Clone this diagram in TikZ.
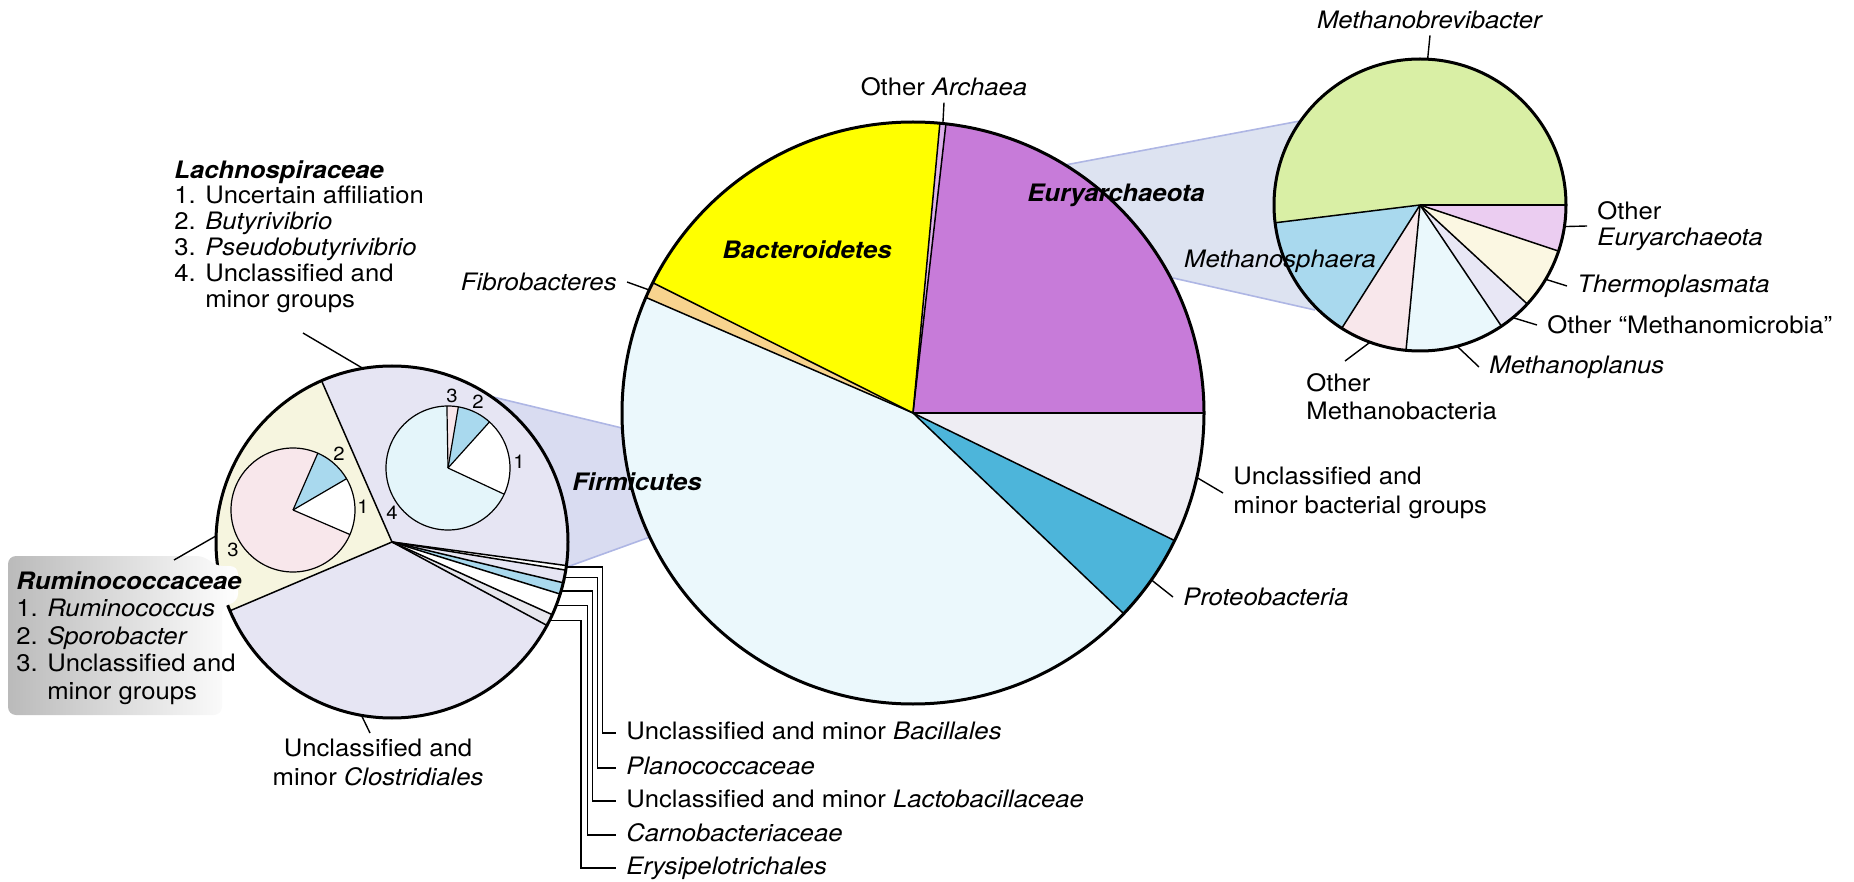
\documentclass[tikz,border=0pt]{standalone}
\usepackage{fontspec}
\setmainfont{TeX Gyre Heros}[FakeStretch=1.07]
\usetikzlibrary{calc}
\definecolor{cEury}{HTML}{C77BD9}
\definecolor{cOArch}{HTML}{DDB0EA}
\definecolor{cBact}{HTML}{FFFF00}
\definecolor{cFibro}{HTML}{F8D38E}
\definecolor{cFirm}{HTML}{EBF8FC}
\definecolor{cProt}{HTML}{4DB5DA}
\definecolor{cUncl}{HTML}{EEEDF3}
\definecolor{cLav}{HTML}{E6E5F3}
\definecolor{cCream}{HTML}{F6F5DF}
\definecolor{cCyan}{HTML}{E4F5FA}
\definecolor{cPink}{HTML}{F8E7EB}
\definecolor{cBlue}{HTML}{A9D9EE}
\definecolor{cGreen}{HTML}{D9EFA5}
\definecolor{cMPlan}{HTML}{EAF8FC}
\definecolor{cMMic}{HTML}{E8E7F5}
\definecolor{cThermo}{HTML}{FBF7E2}
\definecolor{cOEury}{HTML}{EBCDF1}
\definecolor{cBandA}{HTML}{D9DCF1}
\definecolor{cBandB}{HTML}{DDE3F1}
\definecolor{cBandEdge}{HTML}{AEB6E4}
\definecolor{cGreyL}{HTML}{E6E6EC}
\newcommand\pieslice[5]{\fill[#5] (#1) -- ++({-(#3)}:#2) arc[start angle={-(#3)}, end angle={-(#4)}, radius=#2] -- cycle;}
\newcommand\spoke[4]{\draw[#4] (#1) -- ++({-(#3)}:#2);}
\tikzset{
  lbl/.style={font=\fontsize{12}{14.4}\selectfont, inner xsep=5pt, inner ysep=3pt},
  bi/.style={lbl, font=\fontsize{12}{14.4}\selectfont\bfseries\itshape},
  blab/.style={lbl, anchor=west, text height=9pt, text depth=2.5pt},
  numlbl/.style={font=\fontsize{9.5}{11}\selectfont, inner sep=0pt},
  tick/.style={line width=0.7pt},
  rim/.style={line width=1.5pt},
  sepline/.style={line width=0.75pt},
  thinline/.style={line width=0.6pt},
  bandedge/.style={draw=cBandEdge, line width=0.8pt},
}
\begin{document}
\begin{tikzpicture}[x=0.5pt,y=-0.5pt]
\useasboundingbox (0,0) rectangle (1854,882);
\coordinate (M) at (913,413);
\coordinate (S) at (392,542);
\coordinate (E) at (1420,205);
\coordinate (L) at (448,468);
\coordinate (R) at (293,510);

% ---- projection bands
\coordinate (b1s) at (493,397); \coordinate (b1m) at (622,428);
\coordinate (b2s) at (567,567); \coordinate (b2m) at (650,537);
\fill[cBandA] (S) -- (b1s) -- (b1m) -- (M) -- (b2m) -- (b2s) -- cycle;
\draw[bandedge] (b1s) -- (b1m) (b2s) -- (b2m);
\coordinate (e1m) at (1065,165); \coordinate (e1e) at (1300,121);
\coordinate (e2m) at (1173,278); \coordinate (e2e) at (1315,310);
\fill[cBandB] (M) -- (e1m) -- (e1e) -- (E) -- (e2e) -- (e2m) -- cycle;
\draw[bandedge] (e1m) -- (e1e) (e2m) -- (e2e);

% ---- main pie
\pieslice{M}{291}{0}{83.5}{cEury}
\pieslice{M}{291}{83.5}{84.7}{cOArch}
\pieslice{M}{291}{84.7}{153.4}{cBact}
\pieslice{M}{291}{153.4}{156.6}{cFibro}
\pieslice{M}{291}{156.6}{316.4}{cFirm}
\pieslice{M}{291}{316.4}{334}{cProt}
\pieslice{M}{291}{334}{360}{cUncl}
\foreach \a in {0,83.5,84.7,153.4,156.6,316.4,334} {\spoke{M}{291}{\a}{sepline}}
\draw[rim] (M) circle[radius=291];

% ---- Firmicutes pie
\pieslice{S}{176}{-7.7}{113.6}{cLav}
\pieslice{S}{176}{113.6}{203}{cCream}
\pieslice{S}{176}{203}{331.7}{cLav}
\pieslice{S}{176}{-9.2}{-7.7}{white}
\pieslice{S}{176}{-13.4}{-9.2}{cLav}
\pieslice{S}{176}{-17.2}{-13.4}{cBlue}
\pieslice{S}{176}{-24.4}{-17.2}{white}
\pieslice{S}{176}{-28.3}{-24.4}{cGreyL}
\foreach \a in {-7.7,-9.2,-13.4,-17.2,-24.4,-28.3,113.6,203} {\spoke{S}{176}{\a}{sepline}}
\draw[rim] (S) circle[radius=176];

% sub pie Lachnospiraceae
\pieslice{L}{62}{-25}{48}{white}
\pieslice{L}{62}{48}{80.4}{cBlue}
\pieslice{L}{62}{80.4}{91}{cPink}
\pieslice{L}{62}{91}{335}{cCyan}
\foreach \a in {-25,48,80.4,91} {\spoke{L}{62}{\a}{thinline}}
\draw[thinline] (L) circle[radius=62];
% sub pie Ruminococcaceae
\pieslice{R}{62}{-23.3}{30.3}{white}
\pieslice{R}{62}{30.3}{66.4}{cBlue}
\pieslice{R}{62}{66.4}{336.7}{cPink}
\foreach \a in {-23.3,30.3,66.4} {\spoke{R}{62}{\a}{thinline}}
\draw[thinline] (R) circle[radius=62];

% ---- Euryarchaeota pie
\pieslice{E}{146}{0}{187}{cGreen}
\pieslice{E}{146}{187}{237.6}{cBlue}
\pieslice{E}{146}{237.6}{264.5}{cPink}
\pieslice{E}{146}{264.5}{303.9}{cMPlan}
\pieslice{E}{146}{303.9}{317.3}{cMMic}
\pieslice{E}{146}{317.3}{341.6}{cThermo}
\pieslice{E}{146}{341.6}{360}{cOEury}
\foreach \a in {0,187,237.6,264.5,303.9,317.3,341.6} {\spoke{E}{146}{\a}{sepline}}
\draw[rim] (E) circle[radius=146];

% ---- grey paper behind Ruminococcaceae legend
\shade[left color=black!27, right color=white, rounded corners=4pt]
  (8,556) -- (205,556) -- (215,566) -- (238,566) -- (238,602) -- (222,606) -- (222,715) -- (8,715) -- cycle;

% ---- main pie labels
\node[lbl] (oarch) at (944,87) {Other \textit{Archaea}};
\path (M) ++({-84.1}:291) coordinate (oarchP);
\draw[tick] (oarch.south) -- (oarchP);
\node[bi] (bact) at (807,250) {Bacteroidetes};
\node[bi] (eury) at (1116,195) {Euryarchaeota};
\node[bi] (firm) at (637,482) {Firmicutes};
\node[lbl, anchor=east] (fibro) at (627,282) {\textit{Fibrobacteres}};
\path (M) ++({-155}:291) coordinate (fibroP);
\draw[tick] (fibro.east) -- (fibroP);
\node[lbl, anchor=west, align=left, font=\fontsize{12}{14.8}\selectfont] (uncl) at (1223,493) {Unclassified and\\minor bacterial groups};
\path (M) ++({12.8}:291) coordinate (unclP);
\draw[tick] (unclP) -- (uncl.west);
\node[lbl, anchor=west] (prot) at (1173,597) {\textit{Proteobacteria}};
\path (M) ++({35}:291) coordinate (protP);
\draw[tick] (protP) -- (prot.west);

% ---- Firmicutes pie labels
\node[lbl, anchor=north west, align=left, inner sep=0pt, font=\fontsize{12}{12.9}\selectfont] (lach) at (174,160)
  {\textbf{\textit{Lachnospiraceae}}\\1. Uncertain affiliation\\2. \textit{Butyrivibrio}\\3. \textit{Pseudobutyrivibrio}\\4. Unclassified and\\\phantom{4. }minor groups};
\coordinate (lachA) at (303,333);
\path (S) ++({-99.5}:176) coordinate (lachP);
\draw[tick] (lachA) -- (lachP);
\node[lbl, anchor=north west, align=left, inner sep=0pt, font=\fontsize{12}{13.75}\selectfont] (rumi) at (16,571)
  {\textbf{\textit{Ruminococcaceae}}\\1. \textit{Ruminococcus}\\2. \textit{Sporobacter}\\3. Unclassified and\\\phantom{3. }minor groups};
\coordinate (rumiA) at (174,560);
\path (S) ++({-178}:176) coordinate (rumiP);
\draw[tick] (rumiA) -- (rumiP);
\node[lbl, anchor=north, align=center, font=\fontsize{12}{14.2}\selectfont] (clos) at (378,733) {Unclassified and\\minor \textit{Clostridiales}};
\path (S) ++({100}:176) coordinate (closP);
\draw[tick] (closP) -- ([xshift=-4pt]clos.north);

\node[numlbl] (l1) at (519,462) {1};
\node[numlbl] (l2) at (478,402) {2};
\node[numlbl] (l3) at (452,396) {3};
\node[numlbl] (l4) at (392,513) {4};
\node[numlbl] (r1) at (363,507) {1};
\node[numlbl] (r2) at (339,454) {2};
\node[numlbl] (r3) at (233,550) {3};

% bottom labels with elbow connectors
\node[blab] (bac) at (616,733) {Unclassified and minor \textit{Bacillales}};
\node[blab] (plan) at (616,768) {\textit{Planococcaceae}};
\node[blab] (lacto) at (616,801) {Unclassified and minor \textit{Lactobacillaceae}};
\node[blab] (carno) at (616,835) {\textit{Carnobacteriaceae}};
\node[blab] (erys) at (616,868) {\textit{Erysipelotrichales}};
\path (S) ++({8.2}:176) coordinate (t1);
\path (S) ++({11.7}:176) coordinate (t2);
\path (S) ++({16.2}:176) coordinate (t3);
\path (S) ++({21.1}:176) coordinate (t4);
\path (S) ++({26.4}:176) coordinate (t5);
\coordinate (v1) at (602.5,0);
\coordinate (v2) at (597.5,0);
\coordinate (v3) at (592.3,0);
\coordinate (v4) at (587.3,0);
\coordinate (v5) at (580.8,0);
\draw[tick] (t1) -- (t1 -| v1) |- (bac.west);
\draw[tick] (t2) -- (t2 -| v2) |- (plan.west);
\draw[tick] (t3) -- (t3 -| v3) |- (lacto.west);
\draw[tick] (t4) -- (t4 -| v4) |- (carno.west);
\draw[tick] (t5) -- (t5 -| v5) |- (erys.west);

% ---- Euryarchaeota pie labels
\node[lbl] (mbrev) at (1430,20) {\textit{Methanobrevibacter}};
\path (E) ++({-87}:146) coordinate (mbrevP);
\draw[tick] (mbrev.south) -- (mbrevP);
\node[lbl, anchor=west, align=left, font=\fontsize{12}{13}\selectfont] (oeury) at (1587,226) {Other\\\textit{Euryarchaeota}};
\path (E) ++({8.5}:146) coordinate (oeuryP);
\draw[tick] (oeuryP) -- (oeury.west);
\node[lbl, anchor=west] (therm) at (1567,286) {\textit{Thermoplasmata}};
\path (E) ++({30.6}:146) coordinate (thermP);
\draw[tick] (thermP) -- (therm.west);
\node[lbl, anchor=west] (mmic) at (1537,325) {Other ``Methanomicrobia''};
\path (E) ++({50.5}:146) coordinate (mmicP);
\draw[tick] (mmicP) -- (mmic.west);
\node[lbl, anchor=west] (mplan) at (1479,367) {\textit{Methanoplanus}};
\path (E) ++({75.3}:146) coordinate (mplanP);
\draw[tick] (mplanP) -- (mplan.west);
\node[lbl, anchor=north west, align=left, inner sep=0pt, font=\fontsize{12}{14.2}\selectfont] (omb) at (1306,373) {Other\\Methanobacteria};
\path (E) ++({110}:146) coordinate (ombP);
\draw[tick] (ombP) -- ([xshift=19.5pt,yshift=6pt]omb.north west);
\node[lbl] (msph) at (1280,261) {\textit{Methanosphaera}};
\end{tikzpicture}
\end{document}
